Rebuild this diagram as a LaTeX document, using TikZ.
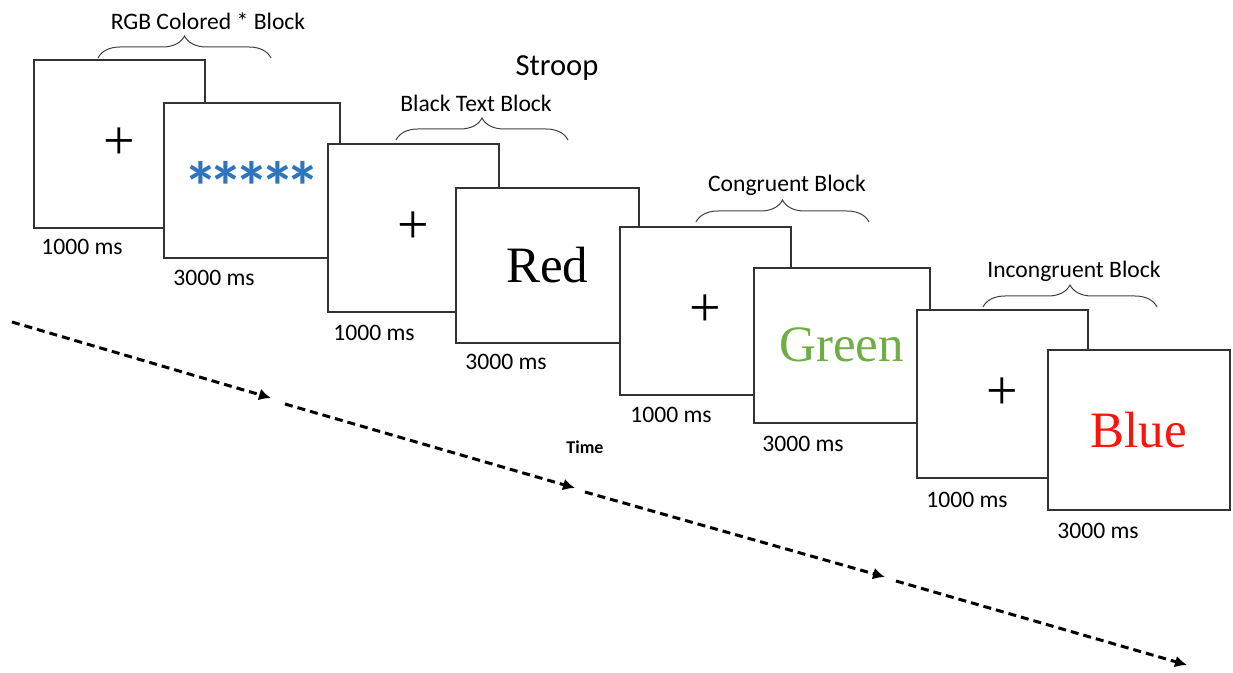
\documentclass[tikz,border=0pt]{standalone}
\usepackage{fontspec}
\setmainfont{Carlito}
\newfontfamily\stimfont{Liberation Serif}
\usetikzlibrary{arrows.meta, positioning, decorations.pathreplacing}

\definecolor{stimblue}{RGB}{46,117,190}
\definecolor{stimgreen}{RGB}{112,173,71}
\definecolor{stimred}{RGB}{250,20,10}

\newcommand{\starkern}{*\kern-4.6pt}

\begin{document}
\begin{tikzpicture}
    [x=0.5pt, y=-0.5pt, >={Latex[length=6pt,width=6pt]},
    screen/.style={rectangle, draw=black!80, line width=0.8pt, fill=white,
        anchor=north west, inner sep=0pt},
    fixscreen/.style={screen, minimum width=85.5pt, minimum height=84pt,
        font=\stimfont\fontsize{28}{28}\selectfont},
    stimscreen/.style={screen, minimum width=88pt, minimum height=77.5pt,
        font=\stimfont\fontsize{25.5}{26}\selectfont},
    dur/.style={anchor=west, inner sep=0pt, font=\fontsize{11.8}{13}\selectfont},
    blocklabel/.style={inner sep=0pt, font=\fontsize{11.8}{13}\selectfont},
    blockbrace/.style={draw=black!75, line width=0.5pt, decorate,
        decoration={brace, amplitude=11pt}},
    timeline/.style={->, dash pattern=on 4pt off 2.5pt, line width=1.5pt}]

    \useasboundingbox (0,0) rectangle (1233,673);

    % screens, one pair per block
    \node[fixscreen] (fixA) at (33,59) {+};
    \node[stimscreen] (stimA) at (163,102)
        {\rmfamily\bfseries\fontsize{35}{36}\selectfont
         \raisebox{-3pt}[\height][\depth]{\textcolor{stimblue}{\starkern\starkern\starkern\starkern*}}};
    \node[fixscreen] (fixB) at (327,143) {+};
    \node[stimscreen, minimum width=91.5pt] (stimB) at (455,187) {Red};
    \node[fixscreen] (fixC) at (619,226) {+};
    \node[stimscreen] (stimC) at (753,267) {\textcolor{stimgreen}{Green}};
    \node[fixscreen] (fixD) at (916,309) {+};
    \node[stimscreen, minimum width=91pt, minimum height=80pt] (stimD) at (1047,349)
        {\textcolor{stimred}{Blue}};

    % durations
    \node[dur] (durA1) at (41,247) {1000 ms};
    \node[dur] (durA2) at (173,278) {3000 ms};
    \node[dur] (durB1) at (333,333) {1000 ms};
    \node[dur] (durB2) at (465,362) {3000 ms};
    \node[dur] (durC1) at (630,415) {1000 ms};
    \node[dur] (durC2) at (762,444) {3000 ms};
    \node[dur] (durD1) at (926,500) {1000 ms};
    \node[dur] (durD2) at (1057,531) {3000 ms};

    % block braces
    \coordinate (bA1) at (98,58);   \coordinate (bA2) at (271,58);
    \coordinate (bB1) at (396,140); \coordinate (bB2) at (568,140);
    \coordinate (bC1) at (696,222); \coordinate (bC2) at (869,222);
    \coordinate (bD1) at (983,307); \coordinate (bD2) at (1157,307);
    \draw[blockbrace] (bA1) -- (bA2);
    \draw[blockbrace] (bB1) -- (bB2);
    \draw[blockbrace] (bC1) -- (bC2);
    \draw[blockbrace] (bD1) -- (bD2);

    \node[blocklabel] (lblA) at (208,21) {RGB Colored * Block};
    \node[blocklabel] (lblB) at (476,103) {Black Text Block};
    \node[blocklabel] (lblC) at (787,185) {Congruent Block};
    \node[blocklabel] (lblD) at (1074,271) {Incongruent Block};

    \node[font=\fontsize{15.3}{17}\selectfont] (title) at (557,68) {Stroop};

    % time axis
    \coordinate (t0) at (12,322);  \coordinate (t1) at (271,398);
    \coordinate (t2) at (285,404); \coordinate (t3) at (575,488);
    \coordinate (t4) at (585,492); \coordinate (t5) at (885,577);
    \coordinate (t6) at (896,581); \coordinate (t7) at (1187,665);
    \draw[timeline] (t0) -- (t1);
    \draw[timeline] (t2) -- (t3);
    \draw[timeline] (t4) -- (t5);
    \draw[timeline] (t6) -- (t7);

    \node[font=\bfseries\fontsize{9}{10}\selectfont] (time) at (585,447) {Time};

\end{tikzpicture}
\end{document}
